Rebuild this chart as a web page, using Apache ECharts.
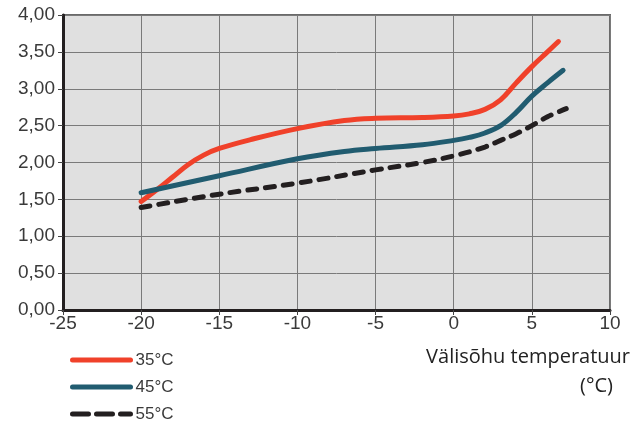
<!DOCTYPE html>
<html>
<head>
<meta charset="utf-8">
<script src="https://cdn.jsdelivr.net/npm/echarts@6/dist/echarts.min.js"></script>
<style>
html,body{margin:0;padding:0;background:#fff;}
#c{width:638px;height:421px;}
</style>
</head>
<body>
<div id="c"></div>
<script>
var seriesNames = ['35°C', '45°C', '55°C'];

var x35 = [-20, -19, -18, -17, -16, -15, -13, -10, -7, -5, -2, 0, 1, 2, 3, 4, 5, 6, 6.7];
var y35 = [1.47, 1.63, 1.80, 1.97, 2.10, 2.19, 2.31, 2.46, 2.57, 2.60, 2.61, 2.63, 2.66, 2.72, 2.85, 3.08, 3.30, 3.50, 3.64];

var x45 = [-20, -15, -10, -7, -5, -2, 0, 1, 2, 3, 4, 5, 6, 7];
var y45 = [1.59, 1.82, 2.05, 2.15, 2.19, 2.24, 2.30, 2.34, 2.40, 2.50, 2.68, 2.90, 3.08, 3.25];

var x55 = [-20, -15, -10, -5, -2, 0, 2, 3, 4, 5, 6, 7.2];
var y55 = [1.39, 1.57, 1.72, 1.90, 2.00, 2.09, 2.21, 2.30, 2.39, 2.50, 2.62, 2.73];

var xMin = -25, xMax = 10, xStep = 5;
var yMin = 0, yMax = 4, yStep = 0.5;
var axisTitle = ['Välisõhu temperatuur', '(°C)'];

function pairs(xs, ys){ return xs.map(function(x,i){ return [x, ys[i]]; }); }

var font = 'Liberation Sans, Arial, sans-serif';
var titleFont = 'Open Sans, sans-serif';
var legendTops = [346, 373, 400];
var legendDash = ['solid', 'solid', [16, 8]];
var legends = seriesNames.map(function(n, i){
  return {
    left: 65, top: legendTops[i], itemWidth: 58, itemHeight: 6, itemGap: 0,
    textStyle: {color: '#3a3a3a', fontSize: 17, fontFamily: font, lineHeight: 18, padding: [0,0,0,0]},
    itemStyle: {opacity: 0},
    lineStyle: {width: 5, cap: 'round', type: legendDash[i]},
    data: [n]
  };
});

var chart = echarts.init(document.getElementById('c'), null, {renderer:'canvas'});
chart.setOption({
  animation: false,
  grid: {left: 63, right: 28, top: 15, bottom: 111, show: true, backgroundColor: '#e0e0e0', borderColor: '#6a6a6a', borderWidth: 2},
  xAxis: {
    type: 'value', min: xMin, max: xMax, interval: xStep,
    axisLine: {show: true, onZero: false, lineStyle: {color: '#231f20', width: 3}},
    axisTick: {show: true, length: 5, lineStyle: {color: '#444', width: 1}},
    axisLabel: {color: '#3a3a3a', fontSize: 19, fontFamily: font, margin: 4},
    splitLine: {show: true, lineStyle: {color: '#7a7a7a', width: 1}}
  },
  yAxis: {
    type: 'value', min: yMin, max: yMax, interval: yStep,
    axisLine: {show: true, onZero: false, lineStyle: {color: '#231f20', width: 3}},
    axisTick: {show: true, length: 5, lineStyle: {color: '#444', width: 1}},
    axisLabel: {color: '#3a3a3a', fontSize: 19, fontFamily: font, margin: 8,
      formatter: function(v){ return v.toFixed(2).replace('.', ','); }},
    splitLine: {show: true, lineStyle: {color: '#7a7a7a', width: 1}}
  },
  legend: legends,
  graphic: [
    {type: 'text', right: 8, top: 347, style: {text: axisTitle[0], fill: '#222', font: '20px ' + titleFont}},
    {type: 'text', right: 25, top: 376, style: {text: axisTitle[1], fill: '#222', font: '20px ' + titleFont}}
  ],
  series: [
    {name: seriesNames[0], type: 'line', smooth: 0.4, symbol: 'none', data: pairs(x35, y35),
      lineStyle: {color: '#f0412a', width: 5, cap: 'round'}, itemStyle: {color: '#f0412a'}},
    {name: seriesNames[1], type: 'line', smooth: 0.4, symbol: 'none', data: pairs(x45, y45),
      lineStyle: {color: '#215c70', width: 5, cap: 'round'}, itemStyle: {color: '#215c70'}},
    {name: seriesNames[2], type: 'line', smooth: 0.4, symbol: 'none', data: pairs(x55, y55),
      lineStyle: {color: '#231f20', width: 5, cap: 'round', type: [9, 9]}, itemStyle: {color: '#231f20'}}
  ]
});
</script>
</body>
</html>
